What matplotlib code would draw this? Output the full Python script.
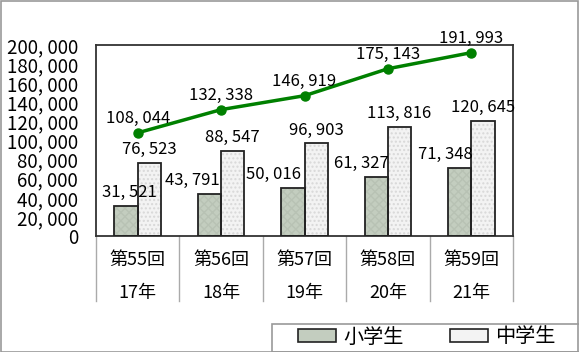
import matplotlib.pyplot as plt
import matplotlib.transforms as mtransforms
from matplotlib.patches import Patch, Rectangle
import numpy as np

plt.rcParams['font.family'] = ['Noto Sans CJK JP', 'DejaVu Sans']

# data
rounds = ["第55回", "第56回", "第57回", "第58回", "第59回"]
years = ["17年", "18年", "19年", "20年", "21年"]
elementary = [31521, 43791, 50016, 61327, 71348]
junior = [76523, 88547, 96903, 113816, 120645]
total = [108044, 132338, 146919, 175143, 191993]
yticks = [0, 20000, 40000, 60000, 80000, 100000, 120000, 140000, 160000, 180000, 200000]
series_names = ["小学生", "中学生"]

# manual nudges of the elementary labels (pixels), as in the original
elem_label_dx = [3, -17, -19, -15, -14]


def fmt(v):
    return "{:,}".format(v).replace(",", ", ")


W, H = 579, 352
fig = plt.figure(figsize=(W / 100, H / 100), dpi=100)
ax = fig.add_axes([96 / W, 1 - 236 / H, (513 - 96) / W, (236 - 45) / H])

x = np.arange(len(rounds))
bw = 0.28
elem_color = "#c3cdbf"
jun_color = "#f3f3f3"

# fill with texture, then outline
ax.bar(x - bw / 2, elementary, bw, color=elem_color, edgecolor="#b8c2b4", hatch="xxxx", linewidth=0, zorder=2)
ax.bar(x + bw / 2, junior, bw, color=jun_color, edgecolor="#d8d8d8", hatch="....", linewidth=0, zorder=2)
ax.bar(x - bw / 2, elementary, bw, fill=False, edgecolor="#222222", linewidth=1.3, zorder=3)
ax.bar(x + bw / 2, junior, bw, fill=False, edgecolor="#222222", linewidth=1.3, zorder=3)

ax.plot(x, total, color="#008000", linewidth=2.5, marker="o", markersize=6.5, zorder=4, clip_on=False)

for i in range(len(x)):
    ax.annotate(fmt(elementary[i]), (x[i] - bw / 2, elementary[i]), xytext=(elem_label_dx[i], 5),
                textcoords="offset pixels", ha="center", va="bottom", fontsize=12, zorder=5)
    ax.annotate(fmt(junior[i]), (x[i] + bw / 2, junior[i]), xytext=(0, 5),
                textcoords="offset pixels", ha="center", va="bottom", fontsize=12, zorder=5)
    ax.annotate(fmt(total[i]), (x[i], total[i]), xytext=(0, 6),
                textcoords="offset pixels", ha="center", va="bottom", fontsize=12, zorder=5)

ax.set_xlim(-0.5, len(x) - 0.5)
ax.set_ylim(0, 200000)
ax.set_yticks(yticks)
ax.set_yticklabels([fmt(v) for v in yticks], fontsize=13.5)
ax.tick_params(axis="y", length=0, pad=13)
ax.set_xticks([])
for s in ax.spines.values():
    s.set_color("#333333")
    s.set_linewidth(1.3)

# category separators and labels under the axis
trans = mtransforms.blended_transform_factory(ax.transData, ax.transAxes)
for b in np.arange(-0.5, len(x), 1.0):
    ax.plot([b, b], [0, -0.34], transform=trans, color="#aaaaaa", linewidth=1, clip_on=False)
for i in range(len(x)):
    ax.text(x[i], -0.126, rounds[i], transform=trans, ha="center", va="center", fontsize=13)
    ax.text(x[i], -0.30, years[i], transform=trans, ha="center", va="center", fontsize=13)

# legend (frame drawn separately so it can run off the right edge)
handles = [Patch(facecolor=elem_color, edgecolor="#222222", linewidth=1.2),
           Patch(facecolor=jun_color, edgecolor="#222222", linewidth=1.2)]
leg = fig.legend(handles, series_names, loc="center left", bbox_to_anchor=(298 / W, 1 - 337 / H),
                 ncol=2, fontsize=14.5, frameon=False, handlelength=1.9,
                 handleheight=0.6, handletextpad=0.35, columnspacing=2.3, borderpad=0,
                 borderaxespad=0)
fig.patches.append(Rectangle((272 / W, 0), (W - 272 + 10) / W, (H - 324) / H, transform=fig.transFigure,
                             fill=False, edgecolor="#999999", linewidth=1.2))

# outer border
fig.patches.append(Rectangle((0.5 / W, 0.5 / H), (W - 1.5) / W, (H - 1.5) / H, transform=fig.transFigure,
                             fill=False, edgecolor="#999999", linewidth=1.2))

fig.savefig("out.png", dpi=100)
